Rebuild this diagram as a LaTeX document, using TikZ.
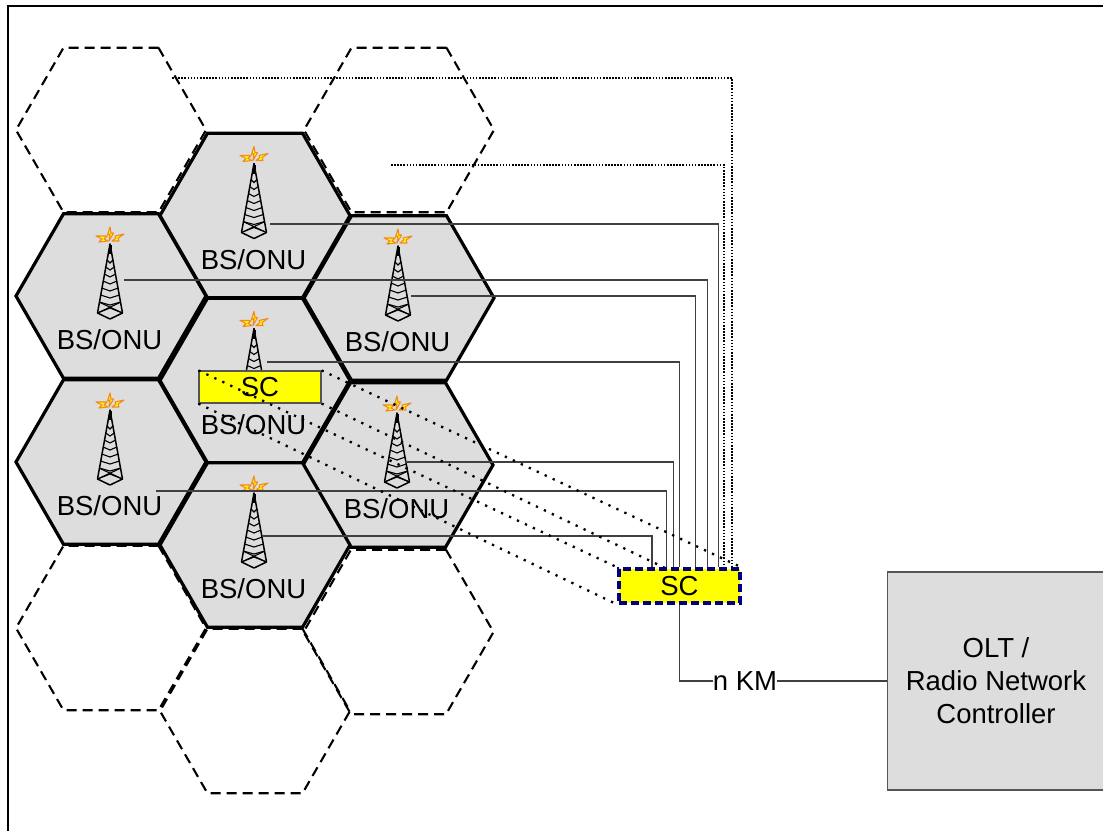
\documentclass[tikz,border=0pt]{standalone}
\usepackage{fontspec}
\setmainfont{Liberation Sans}
\usetikzlibrary{shapes.geometric, positioning}
\definecolor{cellGrey}{HTML}{DDDDDD}
\definecolor{scYellow}{HTML}{FFFF00}
\definecolor{scNavy}{HTML}{000080}
\definecolor{boxEdge}{HTML}{555555}
\definecolor{flashOrange}{HTML}{F28A1E}
\pgfdeclarelayer{front}
\pgfsetlayers{main,front}
\tikzset{
  hexcell/.style    = {regular polygon, regular polygon sides=6, minimum size=190pt, inner sep=0pt, outer sep=0pt},
  bscell/.style     = {hexcell, draw=black, fill=cellGrey, line width=3.2pt},
  sparecell/.style  = {hexcell, draw=black, dash pattern=on 10pt off 6pt, line width=2.1pt},
  lbl/.style        = {font=\fontsize{27.5}{33}\selectfont, inner sep=0pt},
  feedline/.style   = {black!75, line width=1.1pt},
  sparefeed/.style  = {black, line width=1.7pt, dash pattern=on 1.6pt off 1.5pt},
  radioline/.style  = {black, line width=2.3pt, dash pattern=on 2.3pt off 6.5pt},
  linkline/.style   = {black!75, line width=1.1pt},
  scsmall/.style    = {lbl, draw=boxEdge, fill=scYellow, line width=1.2pt, minimum width=122pt, minimum height=32pt},
  scmain/.style     = {lbl, draw=scNavy, fill=scYellow, line width=3.2pt, dash pattern=on 8pt off 4pt, minimum width=121pt, minimum height=34pt},
  oltbox/.style     = {lbl, draw=boxEdge, fill=cellGrey, line width=1.2pt, align=center, minimum width=217pt, minimum height=218pt},
  flash/.style      = {draw=flashOrange, fill=scYellow, line width=1.1pt, line join=round},
  tower/.pic        = {
    \draw[flash] (0,-69) -- (-2.5,-61) -- (0,-62) -- (-1,-55) -- (3.5,-63) -- (1,-63) -- cycle;
    \draw[flash] (-14,-60) -- (-3,-60) -- (-6,-57) -- (-2,-55) -- (-11,-54) -- (-8,-57) -- cycle;
    \draw[flash] (14,-62) -- (5,-60) -- (6,-58) -- (2,-55) -- (9,-55) -- (8,-58) -- cycle;
    \draw[black, line width=3pt] (0,-51) -- (0,-42);
    \draw[black, line width=1.5pt, line join=round] (0,-52) -- (-12.5,17) -- (0,23) -- (12.5,17) -- cycle;
    \foreach \rung/\halfw in {-36/3, -29/4.3, -22/5.6, -15/6.9, -8/8.2, -1/9.5, 6/10.8}
      \draw[black, line width=1.1pt] (-\halfw,\rung) -- (0,\rung+3) -- (\halfw,\rung);
    \draw[black, line width=1.1pt] (-12.5,17) -- (0,12) -- (12.5,17);
    \draw[black, line width=1.1pt] (-11,6) -- (12.5,17) (11,6) -- (-12.5,17);
  },
}
\begin{document}
\begin{tikzpicture}[x=1pt,y=-1pt]
  \useasboundingbox (0,0) rectangle (1103,831);
  \draw[black, line width=2pt] (1103,6) -- (7.5,6) -- (7.5,831);

  \foreach \cell/\cx/\cy in {spareA/111/130, spareB/399/130, spareC/111/628, spareD/255/711, spareE/398.5/632}
    \node[sparecell] (\cell) at (\cx,\cy) {};
  \foreach \cell/\cx/\cy in {bsUL/111/296, bsLL/111/462, bsUR/399/298, bsLR/398/465, bsTop/255/215.5, bsMid/255/380.5, bsLow/255/545}
    \node[bscell] (\cell) at (\cx,\cy) {};
  \foreach \cell in {bsUL, bsLL, bsUR, bsLR, bsTop, bsMid, bsLow} {
    \pic at ([xshift=-1pt]\cell.center) {tower};
    \node[lbl, below=44pt of \cell.center, anchor=center, xshift=-1.5pt] (\cell-lbl) {BS/ONU};
  }

  \begin{pgfonlayer}{front}
    \node[scmain] (scMain) at (679.5,586) {SC};
  \end{pgfonlayer}
  \node[scsmall] (scCell) at (260,387) {SC};
  \node[oltbox] (olt) at (996,681) {OLT /\\Radio Network\\Controller};
  \node[lbl] (dist) at (745,681) {n KM};

  \coordinate (feedTop) at (270,224);
  \coordinate (feedUL) at (124,280);
  \coordinate (feedUR) at (411,296);
  \coordinate (feedMid) at (267,362);
  \coordinate (feedLR) at (405,462);
  \coordinate (feedLL) at (156,491);
  \coordinate (feedLow) at (262,536);
  \coordinate (spareFeedA) at (172,78);
  \coordinate (spareFeedB) at (391,165);

  \draw[feedline] (feedTop) -| ([xshift=39pt]scMain.north);
  \draw[feedline] (feedUL) -| ([xshift=28pt]scMain.north);
  \draw[feedline] (feedUR) -| ([xshift=16pt]scMain.north);
  \draw[feedline] (feedMid) -| (scMain.north);
  \draw[feedline] (feedLR) -| ([xshift=-6pt]scMain.north);
  \draw[feedline] (feedLL) -| ([xshift=-13pt]scMain.north);
  \draw[feedline] (feedLow) -| ([xshift=-27.5pt]scMain.north);
  \draw[sparefeed] (spareFeedA) -| ([xshift=52.5pt]scMain.north);
  \draw[sparefeed] (spareFeedB) -| ([xshift=44.5pt]scMain.north);

  \draw[radioline] (scCell.north west) -- (scMain.north west);
  \draw[radioline] (scCell.north east) -- (scMain.north east);
  \draw[radioline] (scCell.south west) -- (scMain.south west);
  \draw[radioline] (scCell.south east) -- (scMain.south east);

  \draw[linkline] (scMain.south) |- (dist.west);
  \draw[linkline] (dist.east) -- (olt.west);
\end{tikzpicture}
\end{document}
